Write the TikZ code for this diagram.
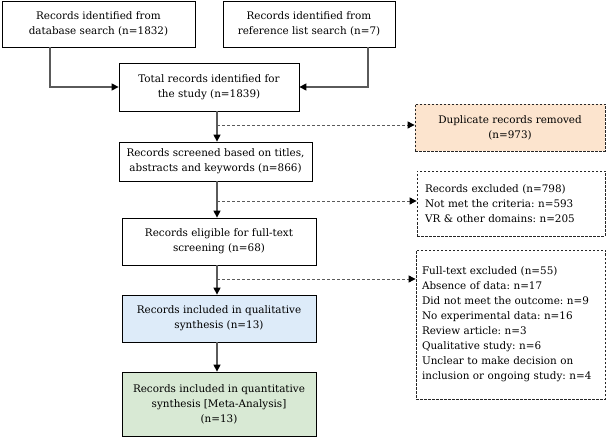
\documentclass[tikz,border=0pt]{standalone}
\usepackage{fontspec}
\setmainfont{DejaVu Serif}
\usetikzlibrary{arrows.meta}
\definecolor{peach}{RGB}{252,228,206}
\definecolor{paleblue}{RGB}{221,235,249}
\definecolor{palegreen}{RGB}{216,233,212}
\definecolor{linegray}{RGB}{90,90,90}
\tikzset{
  box/.style={draw=black, line width=0.8pt, align=center, inner sep=0pt,
    font=\fontsize{10.4}{15}\selectfont\frenchspacing},
  dbox/.style={draw=black!85, line width=0.8pt, dashed, dash pattern=on 2.5pt off 1.5pt,
    font=\fontsize{10.4}{15}\selectfont\frenchspacing, align=left, inner ysep=0pt},
  arr/.style={draw=linegray, line width=1.4pt, -{Triangle[length=7pt,width=7pt,fill=black,color=black]}},
  darr/.style={draw=linegray, line width=0.9pt, dash pattern=on 3pt off 2pt,
    -{Triangle[length=7pt,width=7pt,fill=black,color=black]}}
}
\begin{document}
\begin{tikzpicture}[x=1pt,y=-1pt]
\useasboundingbox (0,0) rectangle (607,438);
\node[box, minimum width=193, minimum height=46] (A) at (98.5,24) {Records identified from\\database search (n=1832)};
\node[box, minimum width=172, minimum height=46] (B) at (309,24) {Records identified from\\reference list search (n=7)};
\node[box, minimum width=180, minimum height=48] (C) at (209,87) {Total records identified for\\the study (n=1839)};
\node[box, minimum width=193, minimum height=39] (D) at (215.5,161.5) {Records screened based on titles,\\abstracts and keywords (n=866)};
\node[box, minimum width=194, minimum height=47] (G) at (219,241.5) {Records eligible for full-text\\screening (n=68)};
\node[box, fill=paleblue, minimum width=194, minimum height=47] (H) at (219,318.5) {Records included in qualitative\\synthesis (n=13)};
\node[box, fill=palegreen, minimum width=194, minimum height=64] (J) at (219,404) {Records included in quantitative\\synthesis [Meta-Analysis]\\(n=13)};
\node[dbox, fill=peach, align=center, minimum width=190, minimum height=47] (E) at (510,127.5) {Duplicate records removed\\(n=973)};
\node[dbox, text width=172, inner xsep=8pt, minimum height=65] (F) at (511,203.5) {Records excluded (n=798)\\Not met the criteria: n=593\\VR \& other domains: n=205};
\node[dbox, text width=177, inner xsep=6pt, minimum height=149] (I) at (510.5,324.5) {Full-text excluded (n=55)\\Absence of data: n=17\\Did not meet the outcome: n=9\\No experimental data: n=16\\Review article: n=3\\Qualitative study: n=6\\Unclear to make decision on\\inclusion or ongoing study: n=4};

\coordinate (s1) at (217,125);
\coordinate (s2) at (217,201);
\coordinate (s3) at (217,279);

\draw[arr] ([xshift=-48.5pt]A.south) |- (C.west);
\draw[arr] ([xshift=59pt]B.south) |- (C.east);
\draw[arr] (C.south -| s1) -- (D.north -| s1);
\draw[arr] (D.south -| s1) -- (G.north -| s1);
\draw[arr] (G.south -| s1) -- (H.north -| s1);
\draw[arr] (H.south -| s1) -- (J.north -| s1);
\draw[darr] (s1) -- (E.west |- s1);
\draw[darr] (s2) -- (F.west |- s2);
\draw[darr] (s3) -- (I.west |- s3);
\end{tikzpicture}
\end{document}
